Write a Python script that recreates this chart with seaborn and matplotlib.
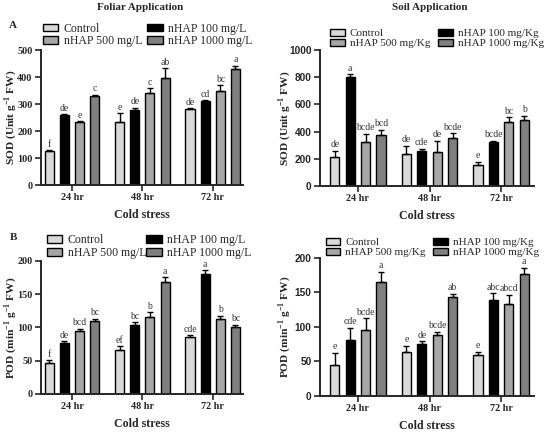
import numpy as np
import pandas as pd
import matplotlib
matplotlib.use("Agg")
import matplotlib.pyplot as plt
from matplotlib.patches import Patch
from matplotlib.container import BarContainer
import seaborn as sns

# ---------------- data ----------------
times = ["24 hr", "48 hr", "72 hr"]
foliar_treatments = ["Control", "nHAP 100 mg/L", "nHAP 500 mg/L", "nHAP 1000 mg/L"]
soil_treatments = ["Control", "nHAP 100 mg/Kg", "nHAP 500 mg/Kg", "nHAP 1000 mg/Kg"]
colors = ["#d9d9d9", "#000000", "#a6a6a6", "#7f7f7f"]

# rows = treatment (Control, 100, 500, 1000); columns = time (24, 48, 72 hr)
sod_foliar_mean = [[125, 235, 280], [260, 278, 310], [232, 340, 350], [330, 397, 430]]
sod_foliar_err = [[3, 30, 5], [3, 8, 5], [4, 18, 20], [5, 35, 12]]
sod_foliar_letters = [["f", "e", "de"], ["de", "de", "cd"], ["e", "c", "bc"], ["c", "ab", "a"]]

sod_soil_mean = [[215, 232, 155], [800, 258, 320], [320, 252, 468], [375, 352, 487]]
sod_soil_err = [[45, 65, 25], [20, 15, 12], [65, 80, 40], [40, 35, 30]]
sod_soil_letters = [["de", "de", "e"], ["a", "cde", "bcde"], ["bcde", "de", "bc"], ["bcd", "bcde", "b"]]

pod_foliar_mean = [[47, 66, 86], [77, 104, 180], [95, 115, 113], [109, 168, 100]]
pod_foliar_err = [[4, 6, 2], [2, 4, 6], [3, 8, 5], [4, 8, 4]]
pod_foliar_letters = [["f", "ef", "cde"], ["de", "bc", "a"], ["bcd", "b", "b"], ["bc", "a", "bc"]]

pod_soil_mean = [[45, 64, 60], [81, 75, 139], [95, 89, 133], [165, 144, 177]]
pod_soil_err = [[18, 9, 4], [18, 4, 10], [18, 4, 14], [15, 4, 9]]
pod_soil_letters = [["e", "e", "e"], ["cde", "de", "abc"], ["bcde", "bcde", "abcd"], ["a", "ab", "a"]]

# ---------------- style ----------------
sns.set_style("ticks")
plt.rcParams["font.family"] = ["Liberation Serif", "DejaVu Serif"]
plt.rcParams["axes.linewidth"] = 1.4
plt.rcParams["mathtext.fontset"] = "custom"
plt.rcParams["mathtext.rm"] = "Liberation Serif"
plt.rcParams["mathtext.bf"] = "Liberation Serif:bold"

fig = plt.figure(figsize=(5.5, 4.34), dpi=100)


def draw(rect, xlim, means, errs, letters, treatments, ymax, ystep, ylabel,
         tickfamily, ylab_x, leg_x, leg_y, colspace, legsize):
    ax = fig.add_axes(rect)
    rows = []
    for ti, tr in enumerate(treatments):
        for j, t in enumerate(times):
            rows.append({"time": t, "treatment": tr, "value": means[ti][j]})
    df = pd.DataFrame(rows)
    sns.barplot(data=df, x="time", y="value", hue="treatment",
                order=times, hue_order=treatments, palette=colors,
                saturation=1, edgecolor="black", linewidth=1.0,
                width=0.86, gap=0.4, errorbar=None, legend=False, ax=ax)
    bar_conts = [c for c in ax.containers if isinstance(c, BarContainer)]
    for ti, cont in enumerate(bar_conts):
        patches = sorted(cont.patches, key=lambda p: p.get_x())
        for j, p in enumerate(patches):
            x = p.get_x() + p.get_width() / 2
            h = p.get_height()
            e = errs[ti][j]
            ax.errorbar([x], [h], yerr=[[0], [e]], fmt="none", ecolor="black",
                        elinewidth=1.0, capsize=2.2, capthick=1.0, zorder=3)
            ax.annotate(letters[ti][j], (x, h + e), xytext=(0, 1),
                        textcoords="offset points", ha="center", va="bottom",
                        fontsize=7, color="#333333")
    ax.set_xlim(*xlim)
    ax.set_ylim(0, ymax)
    ax.set_yticks(np.arange(0, ymax + 1, ystep))
    sns.despine(ax=ax)
    ax.tick_params(axis="both", direction="out", length=4, width=1.2, pad=2)
    for lab in ax.get_yticklabels():
        lab.set_fontfamily(tickfamily)
        lab.set_fontweight("bold")
        lab.set_fontsize(7.3)
    for lab in ax.get_xticklabels():
        lab.set_fontweight("bold")
        lab.set_fontsize(7.3)
    ax.set_xlabel("Cold stress", fontsize=8.6, fontweight="bold", labelpad=5)
    ax.set_ylabel(ylabel, fontsize=8.2, fontweight="bold")
    ax.yaxis.set_label_coords(ylab_x, 0.5)
    order = [0, 2, 1, 3]
    handles = [Patch(facecolor=colors[i], edgecolor="black", linewidth=1.0,
                     label=treatments[i]) for i in order]
    ax.legend(handles=handles, ncol=2, loc="lower left",
              bbox_to_anchor=(leg_x, leg_y), frameon=False, fontsize=legsize,
              handlelength=1.3, handleheight=0.6, handletextpad=0.45,
              columnspacing=colspace, labelspacing=0.05, borderpad=0,
              borderaxespad=0)
    return ax


L_LEFT, L_W = 41 / 550, 202 / 550
R_LEFT, R_W = 320 / 550, 214 / 550

draw([L_LEFT, 0.5737, L_W, 0.311], (-0.44, 2.43), sod_foliar_mean, sod_foliar_err,
     sod_foliar_letters, foliar_treatments, 500, 100,
     r"SOD (Unit g$^{\mathbf{-1}}$ FW)", "Liberation Serif", -0.11,
     0.01, 1.02, 0.45, 8.5)
draw([R_LEFT, 0.5714, R_W, 0.3134], (-0.53, 2.46), sod_soil_mean, sod_soil_err,
     sod_soil_letters, soil_treatments, 1000, 200,
     r"SOD (Unit g$^{\mathbf{-1}}$ FW)", "Liberation Sans", -0.125,
     0.047, 1.012, 0.75, 8)
draw([L_LEFT, 0.0922, L_W, 0.3065], (-0.44, 2.43), pod_foliar_mean, pod_foliar_err,
     pod_foliar_letters, foliar_treatments, 200, 50,
     r"POD (min$^{\mathbf{-1}}$ g$^{\mathbf{-1}}$ FW)", "Liberation Serif", -0.11,
     0.03, 1.015, 0.0, 8.5)
draw([R_LEFT, 0.0876, R_W, 0.318], (-0.53, 2.46), pod_soil_mean, pod_soil_err,
     pod_soil_letters, soil_treatments, 200, 50,
     r"POD (min$^{\mathbf{-1}}$ g$^{\mathbf{-1}}$ FW)", "Liberation Sans", -0.125,
     0.028, 1.005, 0.65, 8)

fig.text(140 / 550, 1 - 7 / 434, "Foliar Application", ha="center", va="center",
         fontsize=8, fontweight="bold")
fig.text(430 / 550, 1 - 8 / 434, "Soil Application", ha="center", va="center",
         fontsize=8, fontweight="bold")
fig.text(13 / 550, 1 - 25 / 434, "A", ha="center", va="center", fontsize=8,
         fontweight="bold")
fig.text(13 / 550, 1 - 237 / 434, "B", ha="center", va="center", fontsize=8,
         fontweight="bold")

fig.savefig("out.png", dpi=100, facecolor="white")
